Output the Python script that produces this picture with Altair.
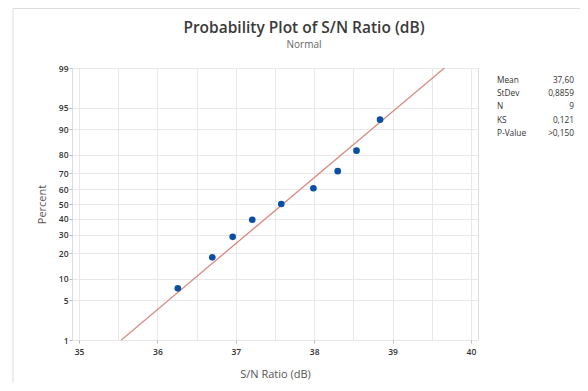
import altair as alt
import pandas as pd
from statistics import NormalDist

# ---- data ----
SN_RATIO = [36.26, 36.70, 36.96, 37.21, 37.58, 37.99, 38.30, 38.54, 38.84]
PERCENT = [7.45, 18.09, 28.72, 39.36, 50.0, 60.64, 71.28, 81.91, 92.55]
Y_TICKS = [1, 5, 10, 20, 30, 40, 50, 60, 70, 80, 90, 95, 99]
X_GRID = [35, 35.5, 36, 36.5, 37, 37.5, 38, 38.5, 39, 39.5, 40]
MEAN = 37.60
STDEV = 0.8859
FIT_PERCENT = [1, 99]
STAT_LABELS = ["Mean", "StDev", "N", "KS", "P-Value"]
STAT_VALUES = ["37,60", "0,8859", "9", "0,121", ">0,150"]

nd = NormalDist()
z = lambda p: nd.inv_cdf(p / 100.0)

pts = pd.DataFrame({"x": SN_RATIO, "pct": PERCENT})
pts["z"] = [z(p) for p in PERCENT]
fit = pd.DataFrame({"pct": FIT_PERCENT})
fit["z"] = [z(p) for p in FIT_PERCENT]
fit["x"] = [MEAN + zz * STDEV for zz in fit["z"]]

ZMIN, ZMAX = z(1), z(99)
FONT = "Open Sans"

xscale = alt.Scale(domain=[34.91, 40.09], nice=False, zero=False)
yscale = alt.Scale(domain=[ZMIN, ZMAX], nice=False, zero=False)

xaxis = alt.Axis(
    values=X_GRID, tickCount=50,
    labelExpr="datum.value % 1 == 0 ? format(datum.value, 'd') : ''",
    tickOpacity={"condition": {"test": "datum.value % 1 != 0", "value": 0}, "value": 1},
    title="S/N Ratio (dB)",
    titleX=203, titleY=34, titleAlign="center", titleBaseline="middle",
    titleFont=FONT, titleFontSize=11, titleFontWeight="normal", titleColor="#555555",
    labelFont=FONT, labelFontSize=8.5, labelColor="#333333", labelFontWeight=600,
    labelPadding=4, tickSize=3, tickColor="#bdbdbd", labelOverlap=False,
    domain=False, gridColor="#e8e8e8", gridWidth=1,
)
yaxis = alt.Axis(
    values=[z(p) for p in Y_TICKS], tickCount=50,
    labelExpr="format(cumulativeNormal(datum.value) * 100, '.0f')",
    title="Percent",
    titleX=-30, titleY=136, titleAngle=-90, titleAlign="center", titleBaseline="middle",
    titleFont=FONT, titleFontSize=11, titleFontWeight="normal", titleColor="#555555",
    labelFont=FONT, labelFontSize=8.5, labelColor="#333333", labelFontWeight=600,
    labelPadding=1, tickSize=3, tickColor="#bdbdbd", labelOverlap=False,
    domain=False, gridColor="#e8e8e8", gridWidth=1,
)

base_pts = alt.Chart(pts).mark_circle(size=44, color="#0a4fa3", opacity=1).encode(
    x=alt.X("x:Q", scale=xscale, axis=xaxis),
    y=alt.Y("z:Q", scale=yscale, axis=yaxis),
)

line = alt.Chart(fit).mark_line(color="#d98b80", strokeWidth=1.3).encode(
    x=alt.X("x:Q", scale=xscale),
    y=alt.Y("z:Q", scale=yscale),
)

one = pd.DataFrame({"t": [0]})

title = alt.Chart(one).mark_text(
    font=FONT, fontSize=15.5, fontWeight=600, color="#3a3a3a", align="center", baseline="middle"
).encode(x=alt.value(232), y=alt.value(-40), text=alt.value("Probability Plot of S/N Ratio (dB)"))

subtitle = alt.Chart(one).mark_text(
    font=FONT, fontSize=10, color="#666666", align="center", baseline="middle"
).encode(x=alt.value(232), y=alt.value(-23), text=alt.value("Normal"))

stat_lab = alt.Chart(one).mark_text(
    font=FONT, fontSize=8.3, color="#333333", align="left", baseline="middle", lineHeight=13.3
).encode(x=alt.value(425), y=alt.value(12.7), text=alt.value(STAT_LABELS))

stat_val = alt.Chart(one).mark_text(
    font=FONT, fontSize=8.3, color="#333333", align="right", baseline="middle", lineHeight=13.3
).encode(x=alt.value(502), y=alt.value(12.7), text=alt.value(STAT_VALUES))

frame_top = alt.Chart(one).mark_rule(color="#dddddd", strokeWidth=1).encode(
    x=alt.value(-59), x2=alt.value(560), y=alt.value(-59.5)
)
frame_left = alt.Chart(one).mark_rule(color="#dddddd", strokeWidth=1).encode(
    x=alt.value(-59), y=alt.value(-59.5), y2=alt.value(330)
)

chart = alt.layer(
    frame_top, frame_left, line, base_pts, title, subtitle, stat_lab, stat_val
).properties(
    width=406, height=272,
    autosize=alt.AutoSizeParams(type="none"),
    padding={"left": 64, "top": 60, "right": 102, "bottom": 43},
).configure_view(
    stroke="#c4c4c4", strokeWidth=1
).configure(background="white")

chart.save("out.html", embed_options={"renderer": "svg", "actions": False})
